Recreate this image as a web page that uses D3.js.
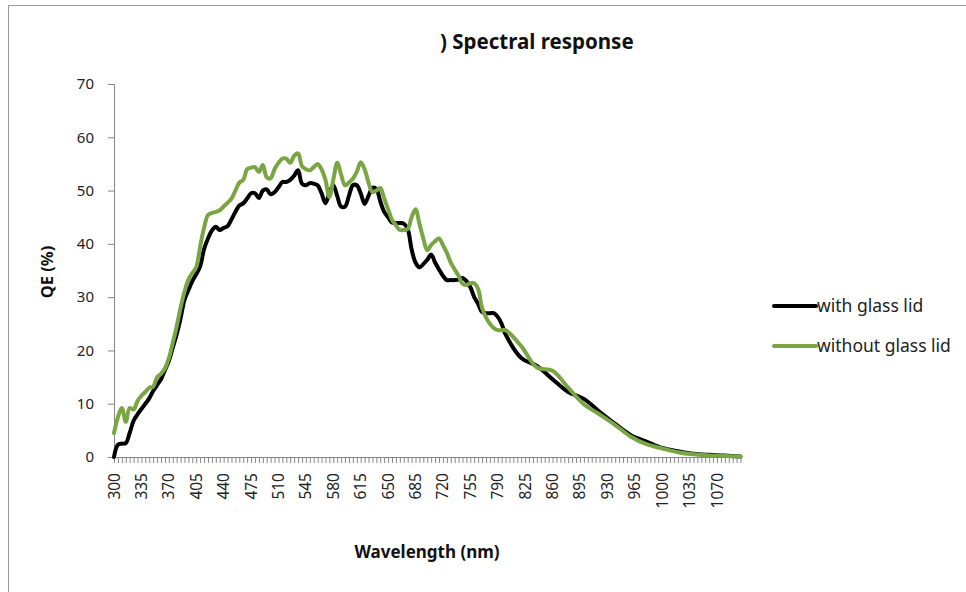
<!DOCTYPE html>
<html>
<head>
<meta charset="utf-8">
<script src="https://cdn.jsdelivr.net/npm/d3@7"></script>
<style>
  body { margin: 0; background: #fff; }
  text { font-family: "Noto Sans", "Open Sans", sans-serif; }
</style>
</head>
<body>
<div id="chart"></div>
<script>
// wavelength grid (nm)
var wavelengths = [300,305,310,315,320,325,330,335,340,345,350,355,360,365,370,375,380,385,390,395,
    400,405,410,415,420,425,430,435,440,445,450,455,460,465,470,475,480,485,490,495,
    500,505,510,515,520,525,530,535,540,545,550,555,560,565,570,575,580,585,590,595,
    600,605,610,615,620,625,630,635,640,645,650,655,660,665,670,675,680,685,690,695,
    700,705,710,715,720,725,730,735,740,745,750,755,760,765,770,775,780,785,790,795,
    800,820,840,860,880,900,920,940,960,980,1000,1020,1040,1060,1080,1100];

var withLid = [0,2.3,2.5,2.6,4.5,6.8,8,9,10,11,12.4,13.5,14.6,16.3,18,20.5,23,26,29.5,31.3,
    33,34.3,35.8,39,41,42.5,43.2,42.6,43,43.3,44.6,46,47.2,47.6,48.5,49.5,49.5,48.6,50,50.2,
    49.3,49.7,50.6,51.6,51.6,52,52.8,53.8,51.3,51,51.4,51.3,51,49.5,47.6,49.5,51,49,47,47,
    49,51,51,49.5,47.5,49,50.5,50.3,48,46,45,44,43.9,43.9,43.8,42.8,39,36.5,35.6,36.2,
    37,38,36.5,35.2,34,33.2,33.2,33.2,33.3,33.6,33,31.9,30,28.7,27.2,27,27,27,26.3,25,
    23,18.6,17.1,14.6,12.2,10.9,8.5,6.2,4.1,2.9,1.7,1.1,0.6,0.4,0.3,0.1];

var withoutLid = [4.5,7.5,9.2,6.6,9.2,8.9,10.5,11.5,12.2,13,13.2,15,15.6,16.6,18.5,21.4,24.5,28,31,33.3,
    34.5,35.6,39.5,43,45.4,45.8,46,46.3,47,47.7,48.5,50,51.5,52,54,54.3,54.4,53.5,54.8,52.5,
    52.3,54,55.2,56,56,55.2,56.5,57,54.6,54,53.8,54.4,55,54,52,48.8,52,55.2,53,51,
    51.5,52.2,53.5,55.3,54,51.5,49.7,50,50.5,48.5,46.5,44.5,43.5,42.6,42.6,42.8,45,46.5,43.8,41,
    38.8,39.8,40.5,41,39.8,38.3,36.5,35.2,34,32.5,32.3,32.6,32.6,31.5,28,26.2,25,24.2,23.8,23.8,
    23.8,20.8,16.8,16.2,13,9.9,8,6,3.8,2.4,1.6,0.9,0.5,0.3,0.2,0.1];

var seriesNames = ["with glass lid", "without glass lid"];
var seriesColors = ["#000000", "#79a543"];
var yTicks = [0, 10, 20, 30, 40, 50, 60, 70];
var xLabelTicks = d3.range(300, 1071, 35);
var xMinorTicks = d3.range(300, 1101, 5);

var width = 966, height = 592;

var svg = d3.select("#chart")
    .append("svg")
    .attr("width", width)
    .attr("height", height);

// outer chart frame
svg.append("rect")
    .attr("x", 8.5)
    .attr("y", 5.5)
    .attr("width", 970)
    .attr("height", 600)
    .attr("fill", "none")
    .attr("stroke", "#9a9a9a");

var x = d3.scaleLinear().domain([300, 1100]).range([114, 740.5]);
var y = d3.scaleLinear().domain([0, 70]).range([457, 84]);

// y axis
var yAxis = svg.append("g")
    .attr("transform", "translate(114,0)")
    .call(d3.axisLeft(y).tickValues(yTicks).tickSize(6).tickPadding(14));
yAxis.select(".domain").attr("stroke", "#868686");
yAxis.selectAll(".tick line").attr("stroke", "#868686");
yAxis.selectAll(".tick text")
    .attr("font-size", 15)
    .attr("fill", "#222");

// x axis, minor ticks every 5 nm
var xAxis = svg.append("g")
    .attr("transform", "translate(0,457)")
    .call(d3.axisBottom(x).tickValues(xMinorTicks).tickSize(6).tickSizeOuter(0).tickFormat(""));
xAxis.select(".domain").attr("stroke", "#868686");
xAxis.selectAll(".tick line").attr("stroke", "#868686");

svg.selectAll(".xlabel")
    .data(xLabelTicks)
    .enter()
    .append("text")
    .attr("class", "xlabel")
    .attr("transform", function(d) { return "translate(" + (x(d) + 5.5) + ",473) rotate(-90)"; })
    .attr("text-anchor", "end")
    .attr("font-size", 15.5)
    .attr("fill", "#222")
    .text(function(d) { return d; });

// series lines
var line = d3.line()
    .x(function(d) { return x(d[0]); })
    .y(function(d) { return y(d[1]); })
    .curve(d3.curveCatmullRom.alpha(0.5));

var seriesData = [withLid, withoutLid].map(function(vals) {
    return wavelengths.map(function(w, i) { return [w, vals[i]]; });
});

svg.selectAll(".series")
    .data(seriesData)
    .enter()
    .append("path")
    .attr("class", "series")
    .attr("d", line)
    .attr("fill", "none")
    .attr("stroke", function(d, i) { return seriesColors[i]; })
    .attr("stroke-width", 4)
    .attr("stroke-linejoin", "round")
    .attr("stroke-linecap", "round");

// title
svg.append("text")
    .attr("x", 440)
    .attr("y", 49)
    .attr("font-size", 20.5)
    .attr("font-weight", "bold")
    .attr("fill", "#111")
    .text(") Spectral response");

// axis titles
svg.append("text")
    .attr("transform", "translate(53,272) rotate(-90)")
    .attr("text-anchor", "middle")
    .attr("font-size", 16.5)
    .attr("font-weight", "bold")
    .attr("fill", "#111")
    .text("QE (%)");

svg.append("text")
    .attr("x", 427)
    .attr("y", 558)
    .attr("text-anchor", "middle")
    .attr("font-size", 17)
    .attr("font-weight", "bold")
    .attr("fill", "#111")
    .text("Wavelength (nm)");

// legend
var legend = svg.selectAll(".legend")
    .data(seriesNames)
    .enter()
    .append("g")
    .attr("class", "legend")
    .attr("transform", function(d, i) { return "translate(772," + (306 + i * 40) + ")"; });

legend.append("line")
    .attr("x1", 2)
    .attr("x2", 44)
    .attr("stroke", function(d, i) { return seriesColors[i]; })
    .attr("stroke-width", 4)
    .attr("stroke-linecap", "round");

legend.append("text")
    .attr("x", 45)
    .attr("y", 6)
    .attr("font-size", 17.5)
    .attr("fill", "#222")
    .text(function(d) { return d; });
</script>
</body>
</html>
